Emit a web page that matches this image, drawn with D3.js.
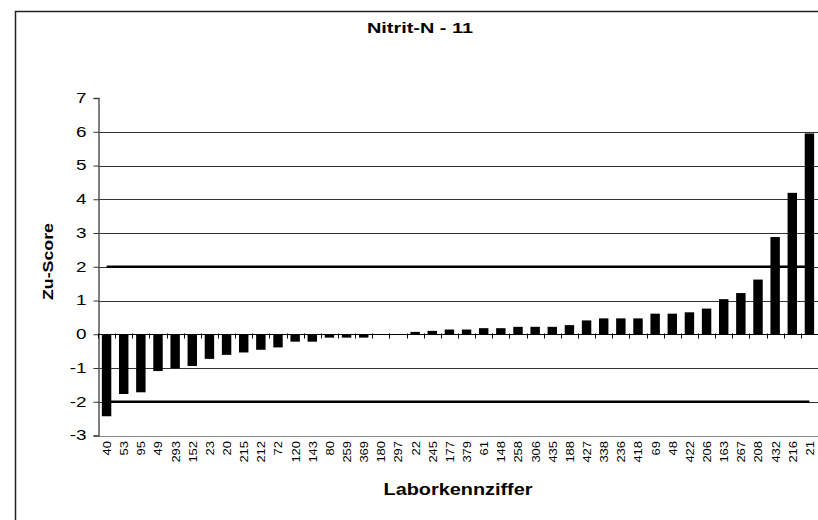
<!DOCTYPE html>
<html><head><meta charset="utf-8">
<script src="https://cdn.jsdelivr.net/npm/d3@7"></script>
<style>body{margin:0;background:#fff} svg{display:block} text{font-family:"Liberation Sans",Arial,sans-serif;fill:#000}</style>
</head><body><svg id="c" width="818" height="520"></svg>
<script>
const chartTitle = "Nitrit-N - 11";
const xTitle = "Laborkennziffer";
const yTitle = "Zu-Score";
const labs = ["40","53","95","49","293","152","23","20","215","212","72","120","143","80","259","369","180","297","22","245","177","379","61","148","258","306","435","188","427","338","236","418","69","48","422","206","163","267","208","432","216","21"];
const zscores = [-2.43,-1.77,-1.72,-1.09,-1.01,-0.94,-0.73,-0.61,-0.54,-0.46,-0.39,-0.22,-0.22,-0.10,-0.10,-0.10,0,0,0.07,0.10,0.14,0.14,0.18,0.18,0.22,0.22,0.22,0.27,0.41,0.47,0.47,0.47,0.61,0.61,0.65,0.76,1.04,1.22,1.62,2.88,4.19,5.95];
const yTicks = [-3,-2,-1,0,1,2,3,4,5,6,7];
const limits = [2,-2];

const svg = d3.select("#c");
const x = d3.scaleBand().domain(labs).range([98,818]);
const y = d3.scaleLinear().domain([-3,7]).range([435.5,98]);
const bw = x.bandwidth();
const barW = bw*0.55;

function widen(sel, f){
  sel.each(function(){
    const L = this.getComputedTextLength();
    this.setAttribute("textLength", L*f);
    this.setAttribute("lengthAdjust","spacingAndGlyphs");
  });
}

// outer border
svg.append("rect").attr("x",15.5).attr("y",11.5).attr("width",830).attr("height",530)
  .attr("fill","none").attr("stroke","#222").attr("stroke-width",1.5);

// gridlines
svg.append("g").selectAll("line").data(yTicks.filter(t=>t!==7 && t!==0 && t!==-3)).join("line")
  .attr("x1",98).attr("x2",818).attr("y1",d=>Math.round(y(d))+0.5).attr("y2",d=>Math.round(y(d))+0.5)
  .attr("stroke","#333").attr("stroke-width",1);
// bottom line at -3
svg.append("line").attr("x1",98).attr("x2",818).attr("y1",Math.round(y(-3))+0.5).attr("y2",Math.round(y(-3))+0.5)
  .attr("stroke","#8a8a8a").attr("stroke-width",1.2);

// y axis
const yAxis = d3.axisLeft(y).tickValues(yTicks).tickSize(5).tickPadding(7).tickFormat(d=>String(d));
const gy = svg.append("g").attr("transform","translate(98.5,0)").call(yAxis);
gy.select(".domain").attr("stroke","#555").attr("stroke-width",1.5);
gy.selectAll(".tick line").attr("stroke","#333");
gy.selectAll(".tick text").attr("font-size",14).attr("fill","#000").attr("font-family",null).call(widen,1.35);

// bars
svg.append("g").selectAll("rect").data(labs.map((l,i)=>({l,v:zscores[i]}))).join("rect")
  .attr("x",d=>x(d.l)+(bw-barW)/2).attr("width",barW)
  .attr("y",d=>y(Math.max(0,d.v))).attr("height",d=>Math.abs(y(d.v)-y(0)))
  .attr("fill","#000");

// x axis at zero
const y0 = Math.round(y(0))+0.5;
svg.append("line").attr("x1",98).attr("x2",818).attr("y1",y0).attr("y2",y0).attr("stroke","#000").attr("stroke-width",1);
svg.append("g").selectAll("line").data(d3.range(labs.length+1)).join("line")
  .attr("x1",i=>Math.round(98+i*bw)+0.5).attr("x2",i=>Math.round(98+i*bw)+0.5)
  .attr("y1",y0-1).attr("y2",y0+4).attr("stroke","#000").attr("stroke-width",1);

// limit lines
const lx1 = x(labs[0])+bw/2, lx2 = x(labs[labs.length-1])+bw/2;
svg.append("g").selectAll("line").data(limits).join("line")
  .attr("x1",lx1).attr("x2",lx2).attr("y1",d=>y(d)).attr("y2",d=>y(d))
  .attr("stroke","#000").attr("stroke-width",2.5);

// x tick labels
svg.append("g").selectAll("text").data(labs).join("text")
  .attr("transform",d=>`translate(${x(d)+bw/2+0.5},441) rotate(-90)`)
  .attr("text-anchor","end").attr("dy","0.36em").attr("font-size",11)
  .text(d=>d)
  .attr("textLength",d=>7.2*d.length).attr("lengthAdjust","spacingAndGlyphs");

// titles
svg.append("text").attr("x",420).attr("y",33).attr("text-anchor","middle")
  .attr("font-size",14).attr("font-weight","bold").text(chartTitle)
  .attr("textLength",106).attr("lengthAdjust","spacingAndGlyphs");
svg.append("text").attr("x",458).attr("y",495).attr("text-anchor","middle")
  .attr("font-size",17).attr("font-weight","bold").text(xTitle)
  .attr("textLength",149).attr("lengthAdjust","spacingAndGlyphs");
svg.append("text").attr("transform","translate(53,261.5) rotate(-90)").attr("text-anchor","middle")
  .attr("font-size",15.4).attr("font-weight","bold").text(yTitle)
  .attr("textLength",77).attr("lengthAdjust","spacingAndGlyphs");
</script></body></html>
